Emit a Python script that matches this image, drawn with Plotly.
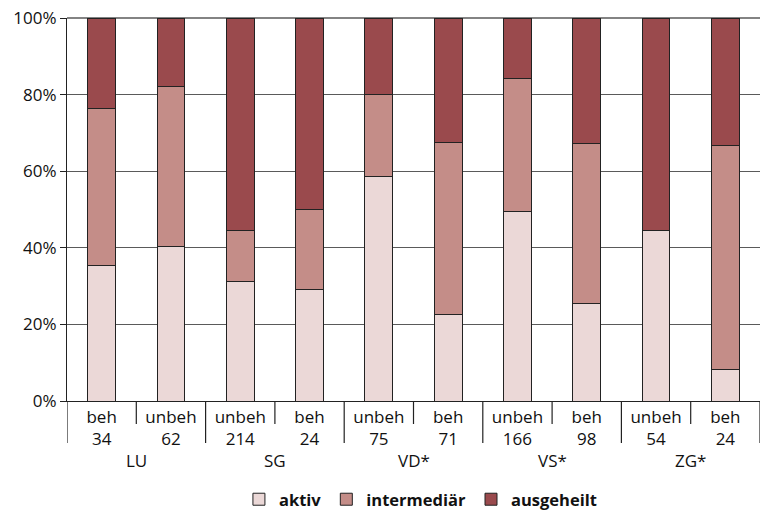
import plotly.graph_objects as go

groups = ["LU", "SG", "VD*", "VS*", "ZG*"]
treat = ["beh", "unbeh", "unbeh", "beh", "unbeh", "beh", "unbeh", "beh", "unbeh", "beh"]
counts = [34, 62, 214, 24, 75, 71, 166, 98, 54, 24]

# percentages
aktiv = [35.3, 40.3, 31.3, 29.2, 58.7, 22.5, 49.4, 25.5, 44.4, 8.3]
intermediaer = [41.2, 41.9, 13.1, 20.8, 21.3, 45.1, 34.9, 41.8, 0.0, 58.4]
ausgeheilt = [23.5, 17.8, 55.6, 50.0, 20.0, 32.4, 15.7, 32.7, 55.6, 33.3]

series_names = ["aktiv", "intermediär", "ausgeheilt"]
series_vals = [aktiv, intermediaer, ausgeheilt]
colors = ["#EBD8D7", "#C48D88", "#9A4A4D"]

FONT = "Open Sans"
x = list(range(len(counts)))
ticktext = [f"{t}<br>{c}" for t, c in zip(treat, counts)]

fig = go.Figure()
for name, vals, col in zip(series_names, series_vals, colors):
    fig.add_trace(go.Bar(
        x=x, y=vals, name=name, width=0.4,
        marker=dict(color=col, line=dict(color="#222222", width=1)),
    ))

plot_h = 383.0
def py(pix):
    return -(pix - 401) / plot_h

shapes = [dict(type="line", xref="paper", yref="paper", x0=0, x1=1, y0=1, y1=1,
               line=dict(color="#5a5a5a", width=1.4), layer="below")]
for i in range(len(counts) + 1):
    xb = i - 0.5
    is_group = (i % 2 == 0)
    shapes.append(dict(type="line", xref="x", yref="paper",
                       x0=xb, x1=xb, y0=0, y1=py(443 if is_group else 424),
                       line=dict(color="#222222", width=1.2)))

annotations = []
for gi, g in enumerate(groups):
    annotations.append(dict(x=gi * 2 + 0.5, y=py(461), xref="x", yref="paper",
                            text=g, showarrow=False, yanchor="middle",
                            font=dict(family=FONT, size=17, color="#111")))

fig.update_layout(
    width=761, height=513,
    margin=dict(l=67, r=1, t=18, b=112, autoexpand=False),
    barmode="stack",
    plot_bgcolor="white", paper_bgcolor="white",
    font=dict(family=FONT, size=17, color="#111"),
    xaxis=dict(range=[-0.5, 9.5], tickmode="array", tickvals=x, ticktext=ticktext,
               showgrid=False, showline=True, linecolor="#222", linewidth=1.2,
               ticks="", zeroline=False, automargin=False,
               tickfont=dict(family=FONT, size=17, color="#111")),
    yaxis=dict(range=[0, 100], tickmode="array", tickvals=[0, 20, 40, 60, 80, 100],
               ticktext=["0%", "20%", "40%", "60%", "80%", "100%"],
               showgrid=True, gridcolor="#5a5a5a", gridwidth=1.2,
               showline=True, linecolor="#222", linewidth=1.2,
               ticks="outside", ticklen=6, tickcolor="#222", tickwidth=1.2,
               zeroline=False, automargin=False, ticklabeloverflow="allow",
               tickfont=dict(family=FONT, size=17, color="#111")),
    legend=dict(orientation="h", x=0.51, xanchor="center", y=py(482), yanchor="top",
                traceorder="normal",
                font=dict(family=FONT, size=16.5, color="#111", weight="bold"),
                itemwidth=30),
    shapes=shapes,
    annotations=annotations,
    bargap=0.6,
)

fig.write_html("out.html", config={"displayModeBar": False},
               post_script="document.body.style.margin='0';document.body.style.padding='0';")
